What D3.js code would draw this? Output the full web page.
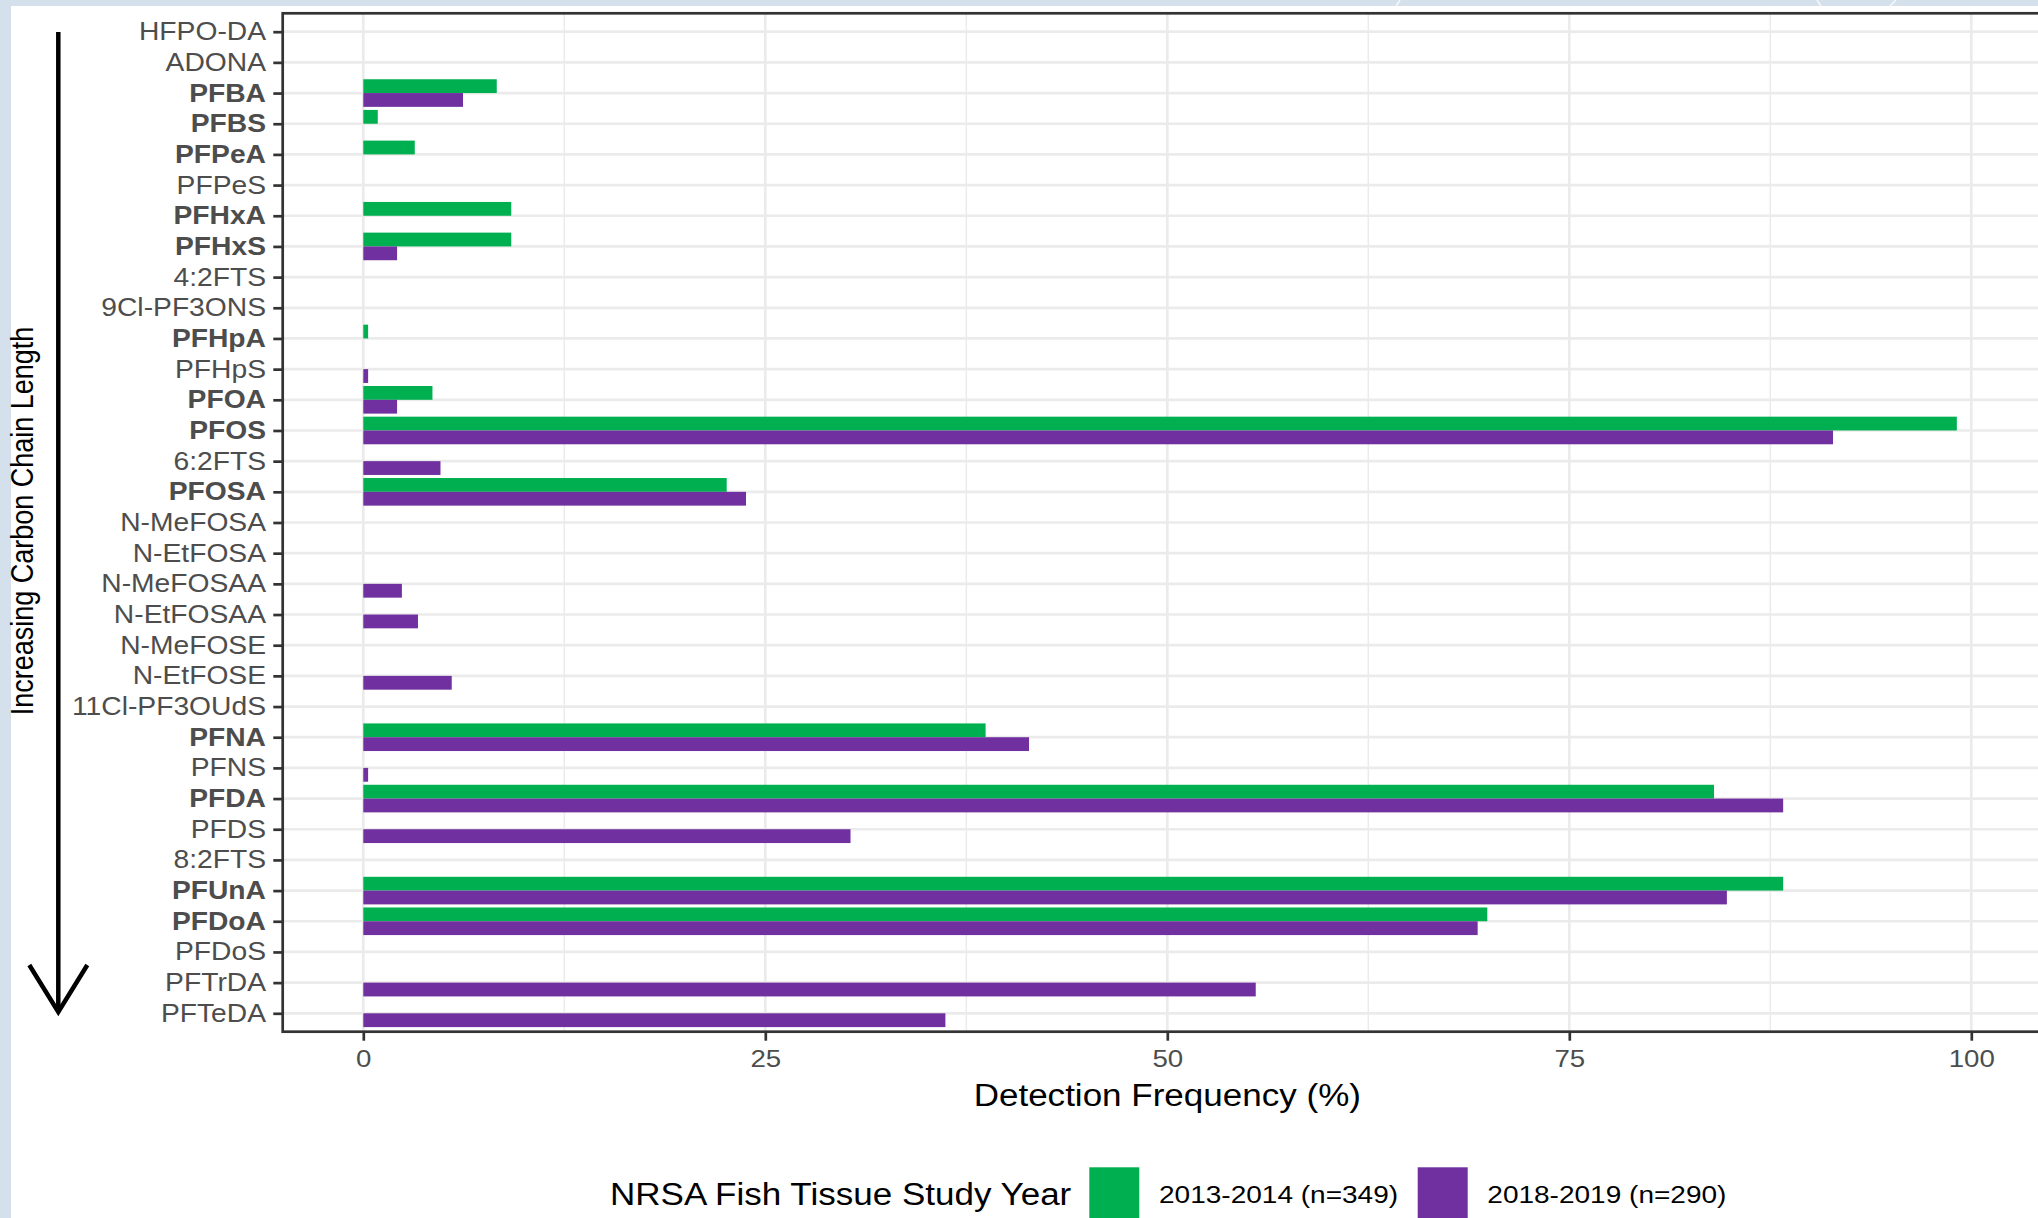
<!DOCTYPE html>
<html>
<head>
<meta charset="utf-8">
<script src="https://cdn.jsdelivr.net/npm/d3@7"></script>
<style>
  html, body { margin: 0; padding: 0; background: #ffffff; }
  svg { display: block; font-family: "Liberation Sans", Arial, Helvetica, sans-serif; }
</style>
</head>
<body>
<svg id="chart" width="2038" height="1218"></svg>
<script>
// PFAS compounds, ordered by increasing carbon chain length
const compounds = [
  "HFPO-DA", "ADONA", "PFBA", "PFBS", "PFPeA", "PFPeS", "PFHxA", "PFHxS",
  "4:2FTS", "9Cl-PF3ONS", "PFHpA", "PFHpS", "PFOA", "PFOS", "6:2FTS", "PFOSA",
  "N-MeFOSA", "N-EtFOSA", "N-MeFOSAA", "N-EtFOSAA", "N-MeFOSE", "N-EtFOSE",
  "11Cl-PF3OUdS", "PFNA", "PFNS", "PFDA", "PFDS", "8:2FTS", "PFUnA", "PFDoA",
  "PFDoS", "PFTrDA", "PFTeDA"
];

// compounds shown in bold on the axis
const boldCompounds = [
  "PFBA", "PFBS", "PFPeA", "PFHxA", "PFHxS", "PFHpA", "PFOA", "PFOS",
  "PFOSA", "PFNA", "PFDA", "PFUnA", "PFDoA"
];

// detection frequency (%), 2013-2014 survey (n=349)
const freq2013 = [
  0, 0, 8.3, 0.9, 3.2, 0, 9.2, 9.2,
  0, 0, 0.3, 0, 4.3, 99.1, 0, 22.6,
  0, 0, 0, 0, 0, 0,
  0, 38.7, 0, 84.0, 0, 0, 88.3, 69.9,
  0, 0, 0
];

// detection frequency (%), 2018-2019 survey (n=290)
const freq2018 = [
  0, 0, 6.2, 0, 0, 0, 0, 2.1,
  0, 0, 0, 0.3, 2.1, 91.4, 4.8, 23.8,
  0, 0, 2.4, 3.4, 0, 5.5,
  0, 41.4, 0.3, 88.3, 30.3, 0, 84.8, 69.3,
  0, 55.5, 36.2
];

const seriesNames = ["2013-2014 (n=349)", "2018-2019 (n=290)"];
const seriesColors = ["#00B050", "#7030A0"];
const xTicks = [0, 25, 50, 75, 100];
const xMinorTicks = [12.5, 37.5, 62.5, 87.5];

const xTitle = "Detection Frequency (%)";
const yTitle = "Increasing Carbon Chain Length";
const legendTitle = "NRSA Fish Tissue Study Year";

// ---- layout ----
const W = 2038, H = 1218;
const SX = 1.13;              // horizontal glyph stretch of the typography
const panel = { left: 282.7, top: 13.3, right: 2040, bottom: 1031.7 };

const svg = d3.select("#chart");

// backdrop
svg.append("rect").attr("width", W).attr("height", H).attr("fill", "#d4e0ec");
svg.append("rect").attr("x", 11).attr("y", 6).attr("width", W).attr("height", H).attr("fill", "#ffffff");
// faint strokes in the top band
[[1396, 1400], [1821, 1817], [1890, 1896]].forEach(([a, b]) => {
  svg.append("line").attr("x1", a).attr("y1", 6).attr("x2", b).attr("y2", 0)
    .attr("stroke", "#ffffff").attr("stroke-width", 1.5).attr("opacity", 0.8);
});

// scales
const x = d3.scaleLinear().domain([0, 100]).range([363.3, 1971.3]);
const y = d3.scalePoint().domain(compounds).range([panel.top, panel.bottom]).padding(0.6);
const step = y.step();
const inner = d3.scaleBand().domain(seriesNames).range([-0.45 * step, 0.45 * step]).padding(0);
const color = d3.scaleOrdinal().domain(seriesNames).range(seriesColors);

// panel background
svg.append("rect")
  .attr("x", panel.left).attr("y", panel.top)
  .attr("width", panel.right - panel.left).attr("height", panel.bottom - panel.top)
  .attr("fill", "#ffffff");

const gridG = svg.append("g");
// minor vertical grid
gridG.selectAll("line.minor").data(xMinorTicks).join("line")
  .attr("class", "minor")
  .attr("x1", d => x(d)).attr("x2", d => x(d))
  .attr("y1", panel.top).attr("y2", panel.bottom)
  .attr("stroke", "#ebebeb").attr("stroke-width", 1.5);
// major vertical grid
gridG.selectAll("line.vmajor").data(xTicks).join("line")
  .attr("class", "vmajor")
  .attr("x1", d => x(d)).attr("x2", d => x(d))
  .attr("y1", panel.top).attr("y2", panel.bottom)
  .attr("stroke", "#ebebeb").attr("stroke-width", 2.7);
// major horizontal grid
gridG.selectAll("line.hmajor").data(compounds).join("line")
  .attr("class", "hmajor")
  .attr("x1", panel.left).attr("x2", panel.right)
  .attr("y1", d => y(d)).attr("y2", d => y(d))
  .attr("stroke", "#ebebeb").attr("stroke-width", 2.7);

// bars
const rows = compounds.map((c, i) => ({
  compound: c,
  values: [
    { series: seriesNames[0], value: freq2013[i] },
    { series: seriesNames[1], value: freq2018[i] }
  ]
}));

const barG = svg.append("g");
barG.selectAll("g.row").data(rows).join("g")
  .attr("class", "row")
  .attr("transform", d => `translate(0,${y(d.compound)})`)
  .selectAll("rect").data(d => d.values.filter(v => v.value > 0)).join("rect")
  .attr("x", x(0))
  .attr("y", d => inner(d.series))
  .attr("width", d => x(d.value) - x(0))
  .attr("height", inner.bandwidth())
  .attr("fill", d => color(d.series));

// panel border
svg.append("rect")
  .attr("x", panel.left).attr("y", panel.top)
  .attr("width", panel.right - panel.left).attr("height", panel.bottom - panel.top)
  .attr("fill", "none").attr("stroke", "#333333").attr("stroke-width", 2.7);

// stretch helper for tick labels positioned by the axis generator
function stretchTicks(sel) {
  sel.each(function () {
    const t = d3.select(this);
    const x0 = +t.attr("x") || 0;
    t.attr("x", x0 / SX).attr("transform", `scale(${SX},1)`);
  });
}

// y axis
const yAxis = svg.append("g")
  .attr("transform", `translate(${panel.left},0)`)
  .call(d3.axisLeft(y).tickSize(9.4).tickPadding(7.3));
yAxis.select(".domain").remove();
yAxis.selectAll(".tick line").attr("stroke", "#333333").attr("stroke-width", 2.7);
yAxis.selectAll(".tick text")
  .attr("fill", "#4d4d4d")
  .attr("font-size", 25)
  .attr("font-family", "'Liberation Sans', Arial, sans-serif")
  .attr("font-weight", d => boldCompounds.includes(d) ? "bold" : "normal")
  .call(stretchTicks);

// x axis
const xAxis = svg.append("g")
  .attr("transform", `translate(0,${panel.bottom})`)
  .call(d3.axisBottom(x).tickValues(xTicks).tickFormat(d3.format("d")).tickSize(9).tickPadding(9.3));
xAxis.select(".domain").remove();
xAxis.selectAll(".tick line").attr("stroke", "#333333").attr("stroke-width", 2.7);
xAxis.selectAll(".tick text")
  .attr("fill", "#4d4d4d")
  .attr("font-size", 24.5)
  .attr("font-family", "'Liberation Sans', Arial, sans-serif")
  .call(stretchTicks);

// free-standing text with the same horizontal stretch
function label(txt, px, py, size, anchor, extra) {
  return svg.append("text")
    .attr("transform", `translate(${px},${py}) scale(${SX},1)` + (extra || ""))
    .attr("text-anchor", anchor)
    .attr("font-size", size)
    .attr("fill", "#000000")
    .text(txt);
}

// axis titles
label(xTitle, x(50), 1106, 31, "middle");
label(yTitle, 33, 521, 27, "middle", " rotate(-90)");

// chain-length arrow
const arrowG = svg.append("g")
  .attr("stroke", "#000000").attr("stroke-width", 4.5).attr("fill", "none")
  .attr("stroke-linecap", "butt");
arrowG.append("line").attr("x1", 58.3).attr("y1", 32).attr("x2", 58.3).attr("y2", 1011);
arrowG.append("path").attr("d", "M29.3,965 L58.3,1012 L87.3,965").attr("stroke-linejoin", "miter");

// legend
label(legendTitle, 610, 1205, 31, "start");
const legendKeysX = [1089.3, 1417.7];
const legendTextX = [1159, 1487.3];
seriesNames.forEach((s, i) => {
  svg.append("rect")
    .attr("x", legendKeysX[i]).attr("y", 1167.3)
    .attr("width", 50).attr("height", 51)
    .attr("fill", color(s));
  label(s, legendTextX[i], 1203.3, 24.8, "start");
});
</script>
</body>
</html>
